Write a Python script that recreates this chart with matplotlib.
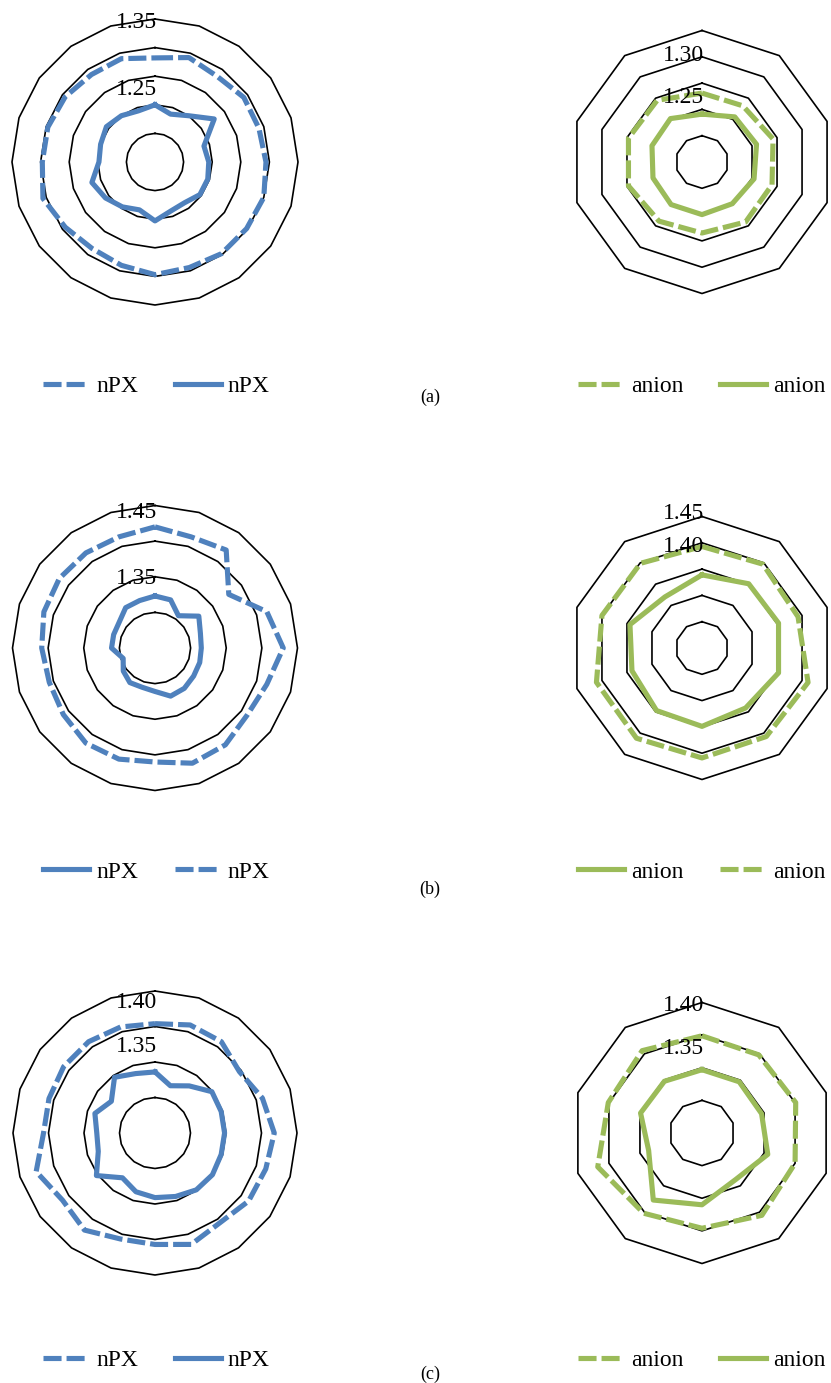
import numpy as np
import matplotlib
matplotlib.use("Agg")
import matplotlib.pyplot as plt

plt.rcParams['font.family'] = ['Liberation Serif', 'DejaVu Serif']
plt.rcParams['lines.scale_dashes'] = False

BLUE = '#4F81BD'
GREEN = '#9BBB59'

# nPX profiles: 20 directions, clockwise from the top
npx_a_dashed = [1.282, 1.292, 1.285, 1.292, 1.291, 1.294, 1.300, 1.298, 1.298, 1.294,
                1.297, 1.290, 1.287, 1.294, 1.306, 1.297, 1.297, 1.294, 1.289, 1.290]
npx_a_solid = [1.200, 1.188, 1.200, 1.228, 1.190, 1.194, 1.197, 1.197, 1.188, 1.190,
               1.203, 1.188, 1.197, 1.207, 1.216, 1.198, 1.200, 1.205, 1.200, 1.194]
npx_b_solid = [1.323, 1.321, 1.306, 1.326, 1.317, 1.315, 1.316, 1.317, 1.320, 1.321,
               1.311, 1.308, 1.310, 1.305, 1.297, 1.311, 1.311, 1.312, 1.320, 1.320]
npx_b_dashed = [1.420, 1.414, 1.420, 1.378, 1.415, 1.430, 1.415, 1.410, 1.418, 1.420,
                1.410, 1.414, 1.415, 1.409, 1.406, 1.409, 1.414, 1.416, 1.415, 1.414]
npx_c_dashed = [1.354, 1.360, 1.359, 1.347, 1.359, 1.368, 1.364, 1.363, 1.356, 1.365,
                1.357, 1.357, 1.369, 1.361, 1.376, 1.357, 1.357, 1.359, 1.359, 1.357]
npx_c_solid = [1.286, 1.270, 1.282, 1.299, 1.298, 1.298, 1.298, 1.300, 1.299, 1.294,
               1.291, 1.287, 1.278, 1.302, 1.284, 1.282, 1.289, 1.276, 1.297, 1.288]

# anion profiles: 10 directions, clockwise from the top
anion_a_dashed = [1.231, 1.232, 1.242, 1.240, 1.241, 1.235, 1.239, 1.247, 1.247, 1.245]
anion_a_solid = [1.191, 1.206, 1.209, 1.204, 1.198, 1.200, 1.200, 1.198, 1.200, 1.202]
anion_b_solid = [1.339, 1.351, 1.353, 1.353, 1.341, 1.349, 1.347, 1.340, 1.344, 1.320]
anion_b_dashed = [1.393, 1.397, 1.392, 1.412, 1.408, 1.409, 1.412, 1.411, 1.400, 1.399]
anion_c_dashed = [1.349, 1.348, 1.351, 1.350, 1.356, 1.346, 1.352, 1.368, 1.351, 1.356]
anion_c_solid = [1.297, 1.297, 1.296, 1.306, 1.288, 1.310, 1.327, 1.286, 1.299, 1.298]

# radial scales (centre value, outer value) and the tick labels shown
scale_a_npx = (1.10, 1.35); ticks_a_npx = [1.35, 1.25]
scale_a_anion = (1.10, 1.35); ticks_a_anion = [1.30, 1.25]
scale_b_npx = (1.25, 1.45); ticks_b_npx = [1.45, 1.35]
scale_b_anion = (1.20, 1.45); ticks_b_anion = [1.45, 1.40]
scale_c_npx = (1.20, 1.40); ticks_c_npx = [1.40, 1.35]
scale_c_anion = (1.20, 1.40); ticks_c_anion = [1.40, 1.35]
STEP = 0.05

panel_tags = ['(a)', '(b)', '(c)']

W, H = 831, 1383
fig = plt.figure(figsize=(W / 100, H / 100), dpi=100)

LW = 3.7
DASH = (0, (13.0, 3.6))
FS = 17


def radar(cx, cy, R, n, scale, series, ticks, tick_offsets, legend_xy):
    ax = fig.add_axes([(cx - R) / W, (H - cy - R) / H, 2 * R / W, 2 * R / H],
                      projection='polar')
    ax.set_theta_zero_location('N')
    ax.set_theta_direction(-1)
    rmin, rmax = scale
    ax.set_ylim(rmin, rmax)
    ax.grid(False)
    ax.set_xticks([])
    ax.set_yticks([])
    ax.spines['polar'].set_visible(False)
    ax.patch.set_alpha(0)

    theta = np.linspace(0, 2 * np.pi, n, endpoint=False)
    closed = np.append(theta, theta[0])
    nrings = int(round((rmax - rmin) / STEP))
    for k in range(1, nrings + 1):
        r = rmin + k * STEP
        ax.plot(closed, np.full_like(closed, r), color='black', lw=1.2,
                clip_on=False, zorder=1)

    handles, names = [], []
    for values, dashed, color, name in series:
        v = np.append(values, values[0])
        ln, = ax.plot(closed, v, color=color, lw=LW,
                      linestyle=DASH if dashed else '-',
                      solid_joinstyle='round', dash_capstyle='butt',
                      clip_on=False, zorder=3)
        handles.append(ln)
        names.append(name)

    for t, off in zip(ticks, tick_offsets):
        ax.annotate(f'{t:.2f}', xy=(0, t), xytext=(2, -off),
                    textcoords='offset pixels', ha='right', va='center',
                    fontsize=FS, zorder=5, annotation_clip=False)

    ax.legend(handles, names, loc='center left',
              bbox_to_anchor=(legend_xy[0] / W, 1 - legend_xy[1] / H),
              bbox_transform=fig.transFigure, ncol=2, frameon=False,
              borderpad=0, borderaxespad=0, handlelength=1.95,
              handletextpad=0.3, columnspacing=1.55, fontsize=FS)
    return ax


# row (a)
radar(155, 162, 143, 20, scale_a_npx,
      [(npx_a_dashed, True, BLUE, 'nPX'), (npx_a_solid, False, BLUE, 'nPX')],
      ticks_a_npx, [3, 13], (43, 386))
radar(702, 162, 131.5, 10, scale_a_anion,
      [(anion_a_dashed, True, GREEN, 'anion'), (anion_a_solid, False, GREEN, 'anion')],
      ticks_a_anion, [-1, 14], (578, 386))

# row (b)
radar(155, 648, 142.5, 20, scale_b_npx,
      [(npx_b_solid, False, BLUE, 'nPX'), (npx_b_dashed, True, BLUE, 'nPX')],
      ticks_b_npx, [7, 2], (43, 872))
radar(702, 648, 131.5, 10, scale_b_anion,
      [(anion_b_solid, False, GREEN, 'anion'), (anion_b_dashed, True, GREEN, 'anion')],
      ticks_b_anion, [-3, 4], (578, 872))

# row (c)
radar(155, 1133, 142, 20, scale_c_npx,
      [(npx_c_dashed, True, BLUE, 'nPX'), (npx_c_solid, False, BLUE, 'nPX')],
      ticks_c_npx, [11, 20], (43, 1360))
radar(702, 1133, 130.5, 10, scale_c_anion,
      [(anion_c_dashed, True, GREEN, 'anion'), (anion_c_solid, False, GREEN, 'anion')],
      ticks_c_anion, [3, 13], (578, 1360))

for tag, y in zip(panel_tags, [397, 889, 1374]):
    fig.text(430 / W, 1 - y / H, tag, ha='center', va='center', fontsize=13)

fig.savefig('out.png', dpi=100)
